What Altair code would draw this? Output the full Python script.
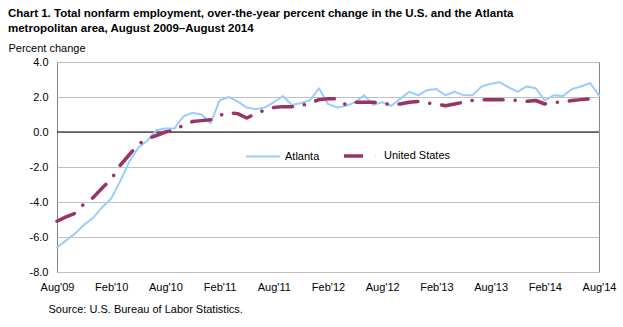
import json
import altair as alt
import pandas as pd

# Month index 0 = Aug 2009 ... 60 = Aug 2014
atlanta = [-6.6, -6.2, -5.8, -5.3, -4.9, -4.3, -3.8, -2.8, -1.7, -0.9,
           -0.5, 0.1, 0.2, 0.2, 0.9, 1.1, 1.0, 0.5, 1.8, 2.0,
           1.75, 1.4, 1.3, 1.4, 1.7, 2.05, 1.55, 1.65, 1.8, 2.5,
           1.6, 1.4, 1.5, 1.7, 2.1, 1.55, 1.7, 1.5, 1.9, 2.3,
           2.1, 2.4, 2.45, 2.1, 2.3, 2.1, 2.1, 2.6, 2.75, 2.85,
           2.55, 2.3, 2.6, 2.5, 1.8, 2.1, 2.05, 2.45, 2.6, 2.8, 2.1]
us = [-5.1, -4.85, -4.65, -4.1, -3.75, -3.2, -2.7, -1.9, -1.3, -0.7,
      -0.4, -0.2, 0.0, 0.1, 0.4, 0.6, 0.65, 0.7, 0.95, 1.1,
      1.05, 0.8, 1.05, 1.25, 1.4, 1.45, 1.45, 1.5, 1.65, 1.85,
      1.9, 1.9, 1.55, 1.7, 1.7, 1.7, 1.65, 1.55, 1.6, 1.7,
      1.75, 1.65, 1.6, 1.5, 1.6, 1.7, 1.8, 1.85, 1.85, 1.85,
      1.85, 1.8, 1.75, 1.8, 1.6, 1.7, 1.7, 1.8, 1.85, 1.9, 1.9]
tick_labels = ["Aug'09", "Feb'10", "Aug'10", "Feb'11", "Aug'11", "Feb'12",
               "Aug'12", "Feb'13", "Aug'13", "Feb'14", "Aug'14"]
y_ticks = [-8, -6, -4, -2, 0, 2, 4]
series_names = ["Atlanta", "United States"]
series_colors = ["#99CCFF", "#993366"]
series_dash = [[1, 0], [19, 12, 0.1, 12]]
series_width = [2, 3.5]

rows = []
for name, vals in zip(series_names, [atlanta, us]):
    for i, v in enumerate(vals):
        rows.append({"m": i, "series": name, "v": v})
df = pd.DataFrame(rows)

FONT = "Liberation Sans"

x_enc = alt.X(
    "m:Q",
    scale=alt.Scale(domain=[0, 60], nice=False, zero=False),
    axis=alt.Axis(
        values=list(range(0, 61, 6)),
        labelExpr=json.dumps(tick_labels) + "[round(datum.value / 6)]",
        grid=False, ticks=False, domain=False,
        labelPadding=9, labelFlush=False, labelOverlap=False, labelBound=False,
        title="Source: U.S. Bureau of Labor Statistics.",
        titleX=-9, titleY=40, titleAlign="left", titleBaseline="alphabetic",
        titleFontWeight="normal", titleAnchor="start",
    ),
)
y_enc = alt.Y(
    "v:Q",
    scale=alt.Scale(domain=[-8, 4], nice=False, zero=False),
    axis=alt.Axis(
        values=y_ticks, grid=True, gridColor="#C0C0C0", gridWidth=1,
        ticks=False, domain=False, labelPadding=9, labelOverlap=False,
        labelExpr="(datum.value < 0 ? '-' : '') + format(abs(datum.value), '.1f')",
        title="Percent change", titleAngle=0, titleX=-49, titleY=-10.5,
        titleAlign="left", titleBaseline="alphabetic", titleFontWeight="normal",
    ),
)

leg = alt.Legend(
    orient="none", legendX=188, legendY=75, direction="horizontal", title=None,
    symbolType="stroke", symbolSize=1156, labelFontSize=11, labelOffset=4,
    columnPadding=17, labelFont=FONT, labelColor="black",
)

zero_rule = alt.Chart(pd.DataFrame({"v": [0]})).mark_rule(color="black", strokeWidth=1.2).encode(
    y=y_enc
)

lines = alt.Chart(df).mark_line(strokeCap="round", strokeJoin="round").encode(
    x=x_enc,
    y=y_enc,
    color=alt.Color("series:N", scale=alt.Scale(domain=series_names, range=series_colors), legend=leg),
    strokeDash=alt.StrokeDash("series:N", scale=alt.Scale(domain=series_names, range=series_dash), legend=leg),
    strokeWidth=alt.StrokeWidth("series:N", scale=alt.Scale(domain=series_names, range=series_width), legend=leg),
    order=alt.Order("m:Q"),
)

title = alt.TitleParams(
    text=["Chart 1. Total nonfarm employment, over-the-year percent change in the U.S. and the Atlanta",
          "metropolitan area, August  2009\u2013August  2014"],
    anchor="start", frame="group", dx=-49, fontSize=11.5, font=FONT,
    fontWeight="bold", color="black", lineHeight=15, offset=8,
)

chart = alt.layer(zero_rule, lines).properties(
    width=542, height=210, title=title,
    autosize=alt.AutoSizeParams(type="none"),
    padding={"left": 57, "top": 62, "right": 24, "bottom": 55},
).configure_view(stroke="#868686", strokeWidth=1).configure_axis(
    labelFont=FONT, titleFont=FONT, labelColor="black", titleColor="black",
    labelFontSize=11, titleFontSize=11,
)

chart.save("out.html", embed_options={"renderer": "svg", "actions": False})
